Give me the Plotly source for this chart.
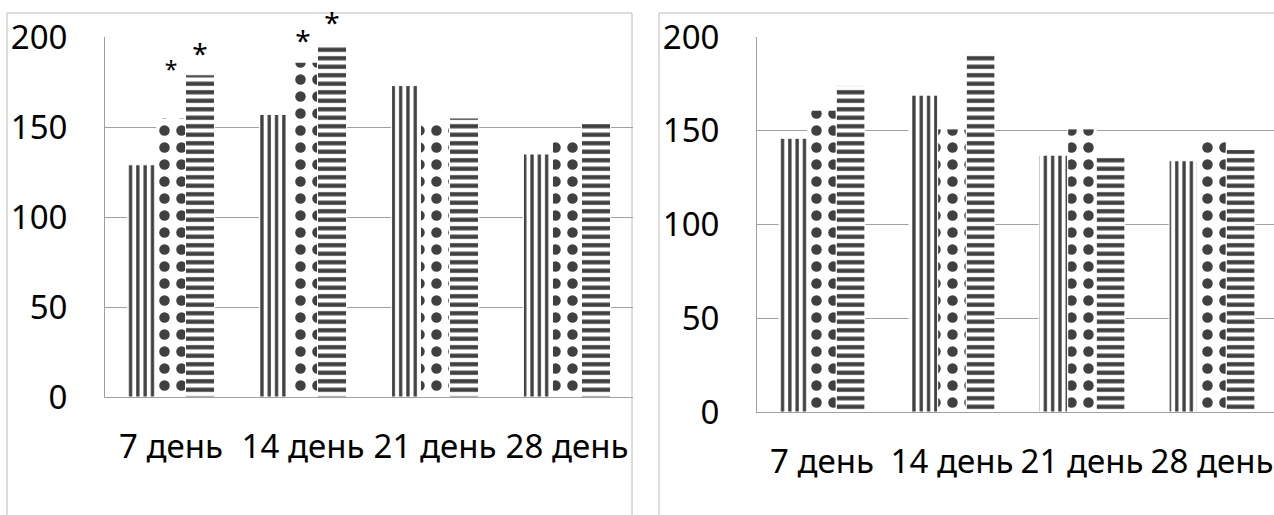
import plotly.graph_objects as go

categories = ["7 день", "14 день", "21 день", "28 день"]

# left panel series
left_striped = [129, 157, 173, 135]
left_dotted = [155, 186, 153, 145]
left_lined = [179, 196, 155, 152]
left_dotted_marks = ["*<br> ", "*", "", ""]
left_lined_marks = ["*", "*", "", ""]

# right panel series
right_striped = [146, 169, 137, 134]
right_dotted = [161, 151, 151, 147]
right_lined = [174, 192, 136, 140]

y_ticks = [0, 50, 100, 150, 200]

W, H = 1274, 515
DARK = "#404040"
GRID = "#a0a0a0"
FONT = "Noto Sans"

patterns = [
    dict(shape="|", size=7.3, solidity=0.45),
    dict(shape=".", size=17, solidity=0.3),
    dict(shape="-", size=8.5, solidity=0.5),
]
star_sizes = [28, [23, 28, 28, 28], 28]

fig = go.Figure()

def add_panel(series, marks, xa, ya):
    for vals, pat, mk, ss in zip(series, patterns, marks, star_sizes):
        fig.add_trace(go.Bar(
            x=categories, y=vals, xaxis=xa, yaxis=ya,
            marker=dict(color="white",
                        line=dict(color="white", width=1),
                        pattern=dict(shape=pat["shape"], size=pat["size"],
                                     solidity=pat["solidity"], fgcolor=DARK,
                                     bgcolor="white", fillmode="overlay",
                                     fgopacity=1)),
            text=mk, textposition="outside", cliponaxis=False,
            constraintext="none",
            textfont=dict(family=FONT, size=ss, color="black"),
            showlegend=False, hoverinfo="skip",
        ))

add_panel([left_striped, left_dotted, left_lined],
          [None, left_dotted_marks, left_lined_marks], "x", "y")
add_panel([right_striped, right_dotted, right_lined],
          [None, None, None], "x2", "y2")

xcommon = dict(type="category", showgrid=False, showline=True, linecolor=GRID,
               linewidth=1, ticks="", ticklabelstandoff=20, automargin=False,
               tickfont=dict(family=FONT, size=33, color="black"))
ycommon = dict(range=[0, 200], tickvals=y_ticks, showgrid=True, gridcolor=GRID,
               gridwidth=1, showline=True, linecolor=GRID, linewidth=1,
               zeroline=False, ticks="", ticklabelstandoff=30, automargin=False,
               tickfont=dict(family=FONT, size=33, color="black"))

r_left = 633
fig.update_layout(
    template="none",
    width=W, height=H,
    margin=dict(l=0, r=0, t=0, b=0, pad=0, autoexpand=False),
    paper_bgcolor="white", plot_bgcolor="white",
    barmode="group", bargap=0.34, bargroupgap=0.0,
    xaxis=dict(domain=[105 / W, r_left / W], anchor="y", range=[-0.5, 3.5], **xcommon),
    yaxis=dict(domain=[(H - 397) / H, (H - 37) / H], anchor="x", **ycommon),
    xaxis2=dict(domain=[757 / W, 1.0], anchor="y2",
                range=[-0.5, 3.5 - 3 / 130], **xcommon),
    yaxis2=dict(domain=[(H - 412) / H, (H - 37) / H], anchor="x2", **ycommon),
    shapes=[
        dict(type="rect", xref="paper", yref="paper",
             x0=7 / W, x1=632 / W, y0=-0.05, y1=(H - 13) / H,
             line=dict(color="#bcbcbc", width=1), fillcolor="rgba(0,0,0,0)",
             layer="below"),
        dict(type="rect", xref="paper", yref="paper",
             x0=659 / W, x1=1.05, y0=-0.05, y1=(H - 13) / H,
             line=dict(color="#bcbcbc", width=1), fillcolor="rgba(0,0,0,0)",
             layer="below"),
    ],
)

fig.write_html("out.html",
               config={"displayModeBar": False, "staticPlot": True},
               post_script="document.body.style.margin='0px';document.body.style.overflow='hidden';")
